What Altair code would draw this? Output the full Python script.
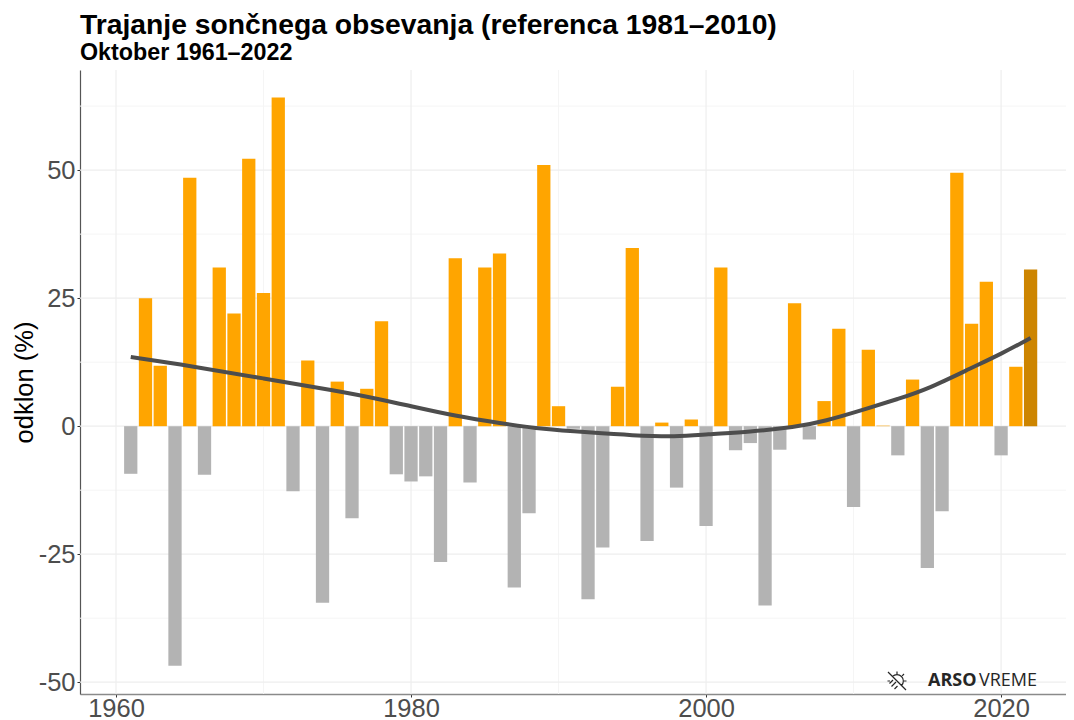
import altair as alt
import pandas as pd

years = list(range(1961, 2023))
values = [-9.3, 25.0, 11.8, -46.8, 48.5, -9.5, 31.0, 22.0, 52.2, 26.0, 64.2, -12.7, 12.8, -34.5, 8.7, -18.0,
          7.3, 20.5, -9.4, -10.8, -9.8, -26.5, 32.8, -11.0, 31.0, 33.7, -31.5, -17.0, 51.0, 3.9, -0.5, -33.8,
          -23.7, 7.7, 34.8, -22.4, 0.7, -12.0, 1.3, -19.5, 31.0, -4.7, -3.3, -35.0, -4.6, 24.0, -2.6, 4.9,
          19.0, -15.8, 14.9, 0.1, -5.7, 9.1, -27.7, -16.6, 49.5, 20.0, 28.2, -5.7, 11.6, 30.6]
smooth_years = [1961, 1965, 1970, 1975, 1978, 1980, 1983, 1986, 1989, 1992, 1995, 1998, 2000, 2003, 2006, 2008,
                2011, 2013, 2015, 2018, 2020, 2022]
smooth_values = [13.5, 11.8, 9.3, 6.9, 5.2, 3.9, 2.0, 0.6, -0.6, -1.2, -1.8, -2.1, -1.6, -1.1, -0.2, 0.9,
                 3.5, 5.3, 7.2, 11.4, 14.1, 17.2]
x_major = [1960, 1980, 2000, 2020]
x_minor = [1970, 1990, 2010]
y_major = [-50, -25, 0, 25, 50]
y_minor = [-37.5, -12.5, 12.5, 37.5, 62.5]
title_text = "Trajanje sončnega obsevanja (referenca 1981–2010)"
subtitle_text = "Oktober 1961–2022"

df = pd.DataFrame({"year": years, "value": values})
df["x0"] = df["year"] - 0.45
df["x1"] = df["year"] + 0.45
df["zero"] = 0
df["kind"] = ["last" if y == 2022 else ("pos" if v >= 0 else "neg") for y, v in zip(years, values)]

xs = alt.Scale(domain=[1957.56, 2024.4], nice=False, zero=False)
ys = alt.Scale(domain=[-52.3, 69.55], nice=False, zero=False)
xaxis = alt.Axis(values=x_major, format="d", grid=False, labelFontSize=25.5, labelColor="#4d4d4d",
                 labelFont="Liberation Sans", tickSize=3, tickColor="#333333", domainColor="#8a8a8a",
                 domainWidth=1.5, labelPadding=-1, title=None)
yaxis = alt.Axis(values=y_major, labelExpr="'' + datum.value", grid=False, labelFontSize=25.5,
                 labelColor="#4d4d4d", labelFont="Liberation Sans", tickSize=3, tickColor="#333333",
                 domainColor="#555555", domainWidth=1.2, labelPadding=2, titleFontSize=25.5,
                 titleFont="Liberation Sans", titleFontWeight="normal", titleColor="#000000",
                 titlePadding=1, title="odklon (%)")


def vrule(vals, color, w):
    return alt.Chart(pd.DataFrame({"v": vals})).mark_rule(color=color, strokeWidth=w).encode(
        x=alt.X("v:Q", scale=xs, axis=xaxis))


def hrule(vals, color, w):
    return alt.Chart(pd.DataFrame({"v": vals})).mark_rule(color=color, strokeWidth=w).encode(
        y=alt.Y("v:Q", scale=ys, axis=yaxis))


grid = [vrule(x_minor, "#f5f5f5", 1), hrule(y_minor, "#f5f5f5", 1),
        vrule(x_major, "#eeeeee", 1.2), hrule(y_major, "#eeeeee", 1.2)]

bars = alt.Chart(df).mark_bar(stroke=None).encode(
    x=alt.X("x0:Q", scale=xs, axis=xaxis),
    x2="x1:Q",
    y=alt.Y("value:Q", scale=ys, axis=yaxis),
    y2="zero:Q",
    color=alt.Color("kind:N", legend=None,
                    scale=alt.Scale(domain=["pos", "neg", "last"], range=["#FFA500", "#B3B3B3", "#CD8500"])),
)

smooth = alt.Chart(pd.DataFrame({"year": smooth_years, "value": smooth_values})).mark_line(
    color="#4d4d4d", strokeWidth=4, interpolate="basis"
).encode(x=alt.X("year:Q", scale=xs, axis=xaxis), y=alt.Y("value:Q", scale=ys, axis=yaxis))

logo_bold = alt.Chart(pd.DataFrame({"t": ["ARSO"]})).mark_text(
    align="left", baseline="middle", font="Open Sans", fontWeight="bold", fontSize=18, color="#262626"
).encode(x=alt.value(848), y=alt.value(611), text="t:N")
logo_reg = alt.Chart(pd.DataFrame({"t": ["VREME"]})).mark_text(
    align="left", baseline="middle", font="Open Sans", fontSize=18, color="#262626"
).encode(x=alt.value(899), y=alt.value(611), text="t:N")
sun_path = ("M-0.9,-0.9L0.9,0.9 M-0.45,-0.45A0.55,0.55 0 0 1 0.45,0.45 M0,-0.95L0,-0.7 M0.7,-0.7L0.52,-0.52 "
            "M0.95,0L0.7,0 M0.7,0.7L0.6,0.6 M-0.95,0L-0.7,0 M-0.75,0.25L-0.4,-0.1 M-0.55,0.55L-0.1,0.1 "
            "M-0.25,0.8L0.05,0.5")
logo_sun = alt.Chart(pd.DataFrame({"t": ["sun"]})).mark_point(
    shape=sun_path, size=400, filled=False, stroke="#262626", strokeWidth=1.2, opacity=1
).encode(x=alt.value(817), y=alt.value(611))

chart = alt.layer(
    *grid, bars, smooth, logo_sun, logo_bold, logo_reg
).properties(
    width=986, height=624,
    padding={"left": 72, "top": 62, "right": 0, "bottom": 26},
    autosize=alt.AutoSizeParams(type="none"),
    background="white",
    title=alt.TitleParams(text=title_text, subtitle=subtitle_text, anchor="start", frame="group",
                          font="Liberation Sans", fontSize=28.3, fontWeight="bold", color="#000000",
                          subtitleFont="Liberation Sans", subtitleFontSize=23.3, subtitleFontWeight="bold",
                          subtitleColor="#000000", subtitlePadding=2, offset=4),
).configure_view(stroke=None)

chart.save("out.html", embed_options={"renderer": "svg", "actions": False})
